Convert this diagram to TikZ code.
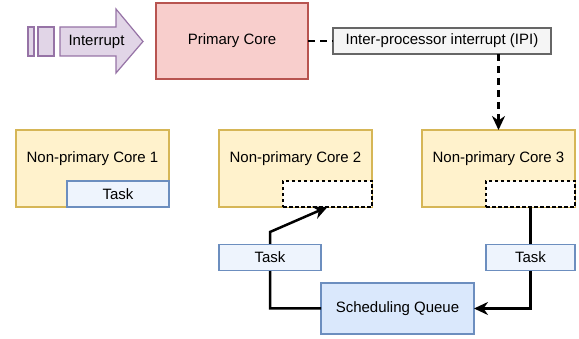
\documentclass[tikz,border=0pt]{standalone}
\usepackage{fontspec}
\setmainfont{Liberation Sans}
\usetikzlibrary{arrows.meta,calc}
\definecolor{corefill}{HTML}{FFF2CC}
\definecolor{coredraw}{HTML}{D6B656}
\definecolor{pfill}{HTML}{F8CECC}
\definecolor{pdraw}{HTML}{B85450}
\definecolor{gfill}{HTML}{F5F5F5}
\definecolor{gdraw}{HTML}{666666}
\definecolor{qfill}{HTML}{DAE8FC}
\definecolor{qdraw}{HTML}{6C8EBF}
\definecolor{tfill}{HTML}{EEF4FD}
\definecolor{afill}{HTML}{E1D5E7}
\definecolor{adraw}{HTML}{9673A6}
\begin{document}
\begin{tikzpicture}[x=1pt,y=-1pt,
  every node/.style={font=\fontsize{15}{18}\selectfont, inner sep=0pt, outer sep=0pt},
  box/.style={draw, line width=1.2pt, rectangle},
  core/.style={box, fill=corefill, draw=coredraw, minimum width=153pt, minimum height=77pt},
  taskbox/.style={box, fill=tfill, draw=qdraw, minimum height=25.5pt},
  slot/.style={draw=black, fill=white, line width=1.2pt, dash pattern=on 3.5pt off 2.5pt, minimum width=89pt, minimum height=26pt},
  conn/.style={line width=2.5pt, line join=miter},
  tip/.style={-{Stealth[length=14pt,width=13pt,inset=4.5pt]}},
  dashconn/.style={conn, dash pattern=on 7pt off 5pt}
]
\useasboundingbox (0,0) rectangle (579,339);
% Interrupt striped arrow
\draw[fill=afill, draw=adraw, line width=1.2pt] (28,27) rectangle (34,56);
\draw[fill=afill, draw=adraw, line width=1.2pt] (38,27) rectangle (54,56);
\draw[fill=afill, draw=adraw, line width=1.2pt] (60,27) -- (116,27) -- (116,9) -- (143,41.5) -- (116,73) -- (116,56) -- (60,56) -- cycle;
\node (intr) at (96.5,41.5) {Interrupt};
% Primary core
\node[box, fill=pfill, draw=pdraw, minimum width=152pt, minimum height=76pt] (prim) at (232,41) {Primary Core};
% IPI
\node[box, fill=gfill, draw=gdraw, minimum width=218pt, minimum height=26pt] (ipi) at (442,41) {Inter-processor interrupt (IPI)};
% Cores
\node[core] (c1) at (92.5,168.5) {};
\node[core] (c2) at (295.5,168.5) {};
\node[core] (c3) at (498.5,168.5) {};
\node (c1t) at (92.5,159) {Non-primary Core 1};
\node (c2t) at (295.5,159) {Non-primary Core 2};
\node (c3t) at (498.5,159) {Non-primary Core 3};
\node[taskbox, minimum width=102pt, minimum height=26pt] (t1) at (118,194) {Task};
\node[slot] (s2) at (327.5,194) {};
\node[slot] (s3) at (530.5,194) {};
% Scheduling queue
\node[box, fill=qfill, draw=qdraw, minimum width=153pt, minimum height=51pt] (sq) at (397.5,308.5) {Scheduling Queue};
% connectors
\draw[dashconn] (prim.east) -- (ipi.west);
\draw[dashconn, tip] (c3.north |- ipi.south) -- (c3.north);
\coordinate (bendL) at (270,232);
\draw[conn, tip] (sq.west) -| (bendL) -- (s2.south);
\draw[conn, tip] (s3.south) |- (sq.east);
% task labels on connectors
\node[taskbox, minimum width=102pt] (tl) at (270,257.5) {Task};
\node[taskbox, minimum width=89pt] (tr) at (530.5,257.5) {Task};
\end{tikzpicture}
\end{document}
